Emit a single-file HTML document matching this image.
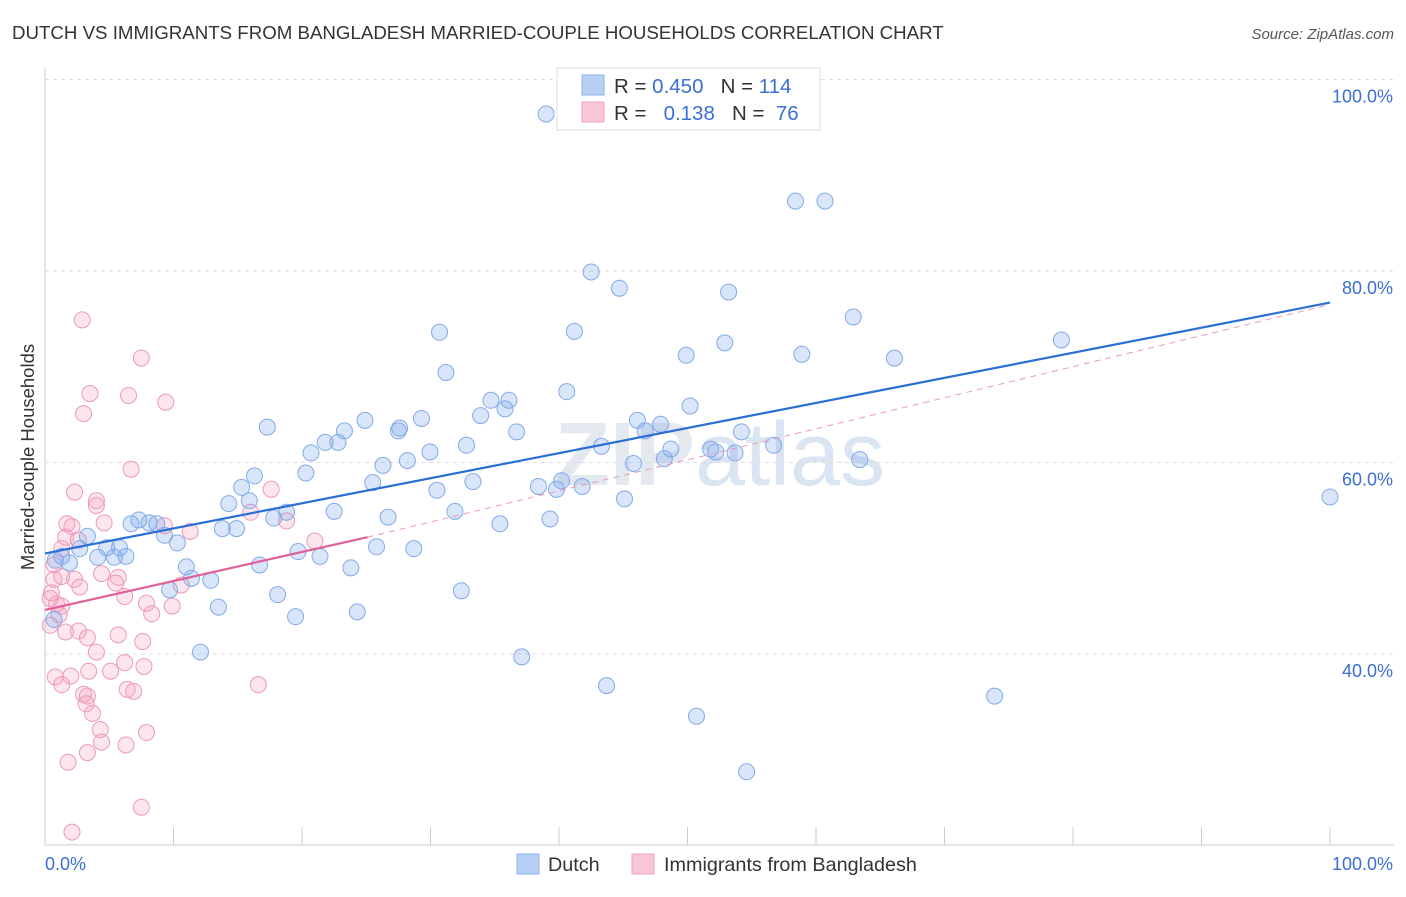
<!DOCTYPE html>
<html><head><meta charset="utf-8"><style>
body{margin:0;background:#fff;font-family:"Liberation Sans",sans-serif;}
svg text{font-family:"Liberation Sans",sans-serif;}
</style></head><body>
<svg id="chart" width="1406" height="892">
<text x="12" y="39" font-size="18.7" fill="#333">DUTCH VS IMMIGRANTS FROM BANGLADESH MARRIED-COUPLE HOUSEHOLDS CORRELATION CHART</text>
<text x="1394" y="39" font-size="15" fill="#555" font-style="italic" text-anchor="end">Source: ZipAtlas.com</text>
<text x="720" y="485" font-size="90" fill="#e4e8ef" text-anchor="middle" font-weight="bold">ZIP<tspan font-weight="normal" fill="#dbe4f3">atlas</tspan></text>
<g id="grid"></g><g id="marks"></g>
<text transform="translate(34,457) rotate(-90)" font-size="18.5" fill="#333" text-anchor="middle">Married-couple Households</text>
<g>
<rect x="557" y="68" width="263" height="62" fill="#fff" stroke="#ddd"/>
<rect x="582" y="75" width="22" height="20" fill="#b9d0f5" stroke="#8fb1ea"/>
<rect x="582" y="102" width="22" height="20" fill="#f8c6d6" stroke="#eea3bd"/>
<text x="614" y="93" font-size="20.5" fill="#333">R = <tspan fill="#3b6fd4">0.450</tspan>&#160;&#160;&#160;N = <tspan fill="#3b6fd4">114</tspan></text>
<text x="614" y="120" font-size="20.5" fill="#333">R = &#160;&#160;<tspan fill="#3b6fd4">0.138</tspan>&#160;&#160;&#160;N = &#160;<tspan fill="#3b6fd4">76</tspan></text>
</g>
<g>
<rect x="517" y="854" width="22" height="20" fill="#b9d0f5" stroke="#8fb1ea"/>
<text x="548" y="871" font-size="19.8" fill="#333">Dutch</text>
<rect x="632" y="854" width="22" height="20" fill="#f8c6d6" stroke="#eea3bd"/>
<text x="664" y="871" font-size="19.8" fill="#333">Immigrants from Bangladesh</text>
</g>
</svg>
<script>
const yTicks=[40,60,80,100];
const xTickCount=10;
const blueX=[39.0,57.2,58.4,60.7,42.5,44.7,53.2,62.9,79.1,41.2,30.7,52.9,49.9,58.9,66.1,31.2,40.6,34.7,36.1,35.8,33.9,50.2,24.9,29.3,27.6,27.5,23.3,17.3,36.7,46.1,46.7,47.9,54.2,21.8,22.8,32.8,43.3,56.7,48.7,51.8,52.2,53.7,29.96,20.7,28.2,26.3,45.8,48.2,63.4,20.3,16.3,25.5,33.3,40.2,38.4,39.8,41.8,30.5,15.3,45.1,100,15.9,14.3,31.9,18.8,22.5,17.8,26.7,39.3,35.4,7.3,6.7,8.1,8.7,13.8,14.9,9.3,3.3,10.3,2.7,4.8,5.8,25.8,28.7,1.3,4.1,5.4,6.3,19.7,21.4,0.8,1.9,16.7,11.0,23.8,11.4,12.9,9.7,18.1,32.4,13.5,24.3,19.5,0.7,12.1,37.1,73.9,43.7,50.7,54.6];
const blueY=[96.4,99.4,87.3,87.3,79.9,78.2,77.8,75.2,72.8,73.7,73.6,72.5,71.2,71.3,70.9,69.4,67.4,66.5,66.5,65.6,64.9,65.9,64.4,64.6,63.6,63.3,63.3,63.7,63.2,64.4,63.3,64.0,63.2,62.1,62.1,61.8,61.7,61.8,61.4,61.4,61.1,61.0,61.1,61.0,60.2,59.7,59.9,60.4,60.3,58.9,58.6,57.9,58.0,58.1,57.5,57.2,57.5,57.1,57.4,56.2,56.4,56.0,55.7,54.9,54.8,54.9,54.2,54.3,54.1,53.6,54.0,53.6,53.7,53.6,53.1,53.1,52.4,52.3,51.6,51.0,51.1,51.1,51.2,51.0,50.2,50.1,50.1,50.2,50.7,50.2,49.8,49.5,49.3,49.1,49.0,47.9,47.7,46.7,46.2,46.6,44.9,44.4,43.9,43.6,40.2,39.7,35.6,36.7,33.5,27.7];
const pinkX=[2.9,7.5,3.5,6.5,9.4,3.0,6.7,2.3,4.0,4.0,17.6,4.6,1.7,2.1,9.3,11.3,16.0,18.8,1.6,2.6,1.3,21.0,0.7,1.3,2.3,4.4,5.7,5.5,0.7,2.7,0.5,0.4,6.2,10.6,7.9,0.9,1.3,9.9,8.3,1.1,0.4,2.6,1.6,3.3,5.7,7.6,4.0,6.2,7.7,5.1,3.4,0.8,2.0,1.3,16.6,6.4,6.9,3.0,3.3,3.2,3.7,4.3,7.9,4.4,6.3,3.3,1.8,7.5,2.1];
const pinkY=[74.9,70.9,67.2,67.0,66.3,65.1,59.3,56.9,56.0,55.5,57.2,53.7,53.6,53.3,53.4,52.8,54.8,53.9,52.2,51.9,51.0,51.8,49.3,48.1,47.8,48.4,48.0,47.4,47.8,47.0,46.4,45.8,46.0,47.2,45.3,45.2,45.0,45.0,44.2,44.1,43.0,42.4,42.3,41.7,42.0,41.3,40.2,39.1,38.7,38.2,38.2,37.6,37.7,36.8,36.8,36.3,36.1,35.8,35.6,34.8,33.8,32.1,31.8,30.8,30.5,29.7,28.7,24.0,21.4];
const blueTrend=[50.5,76.7];
const pinkTrend=[44.6,52.2];
const pinkTrendEndX=25.1;
const pinkExtensionEnd=76.5;

const X=v=>45+v*12.85, Y=v=>1037-v*9.575;
const NS="http://www.w3.org/2000/svg";
const grid=document.getElementById('grid'), marks=document.getElementById('marks');
function mk(tag,attrs,parent){const e=document.createElementNS(NS,tag);for(const k in attrs)e.setAttribute(k,attrs[k]);parent.appendChild(e);return e;}
mk('line',{x1:45,y1:68,x2:45,y2:845,stroke:'#ccc'},grid);
mk('line',{x1:45,y1:845,x2:1394,y2:845,stroke:'#ccc'},grid);
yTicks.forEach(t=>{
 const l=mk('line',{x1:45,y1:Y(t),x2:1394,y2:Y(t),stroke:'#ddd','stroke-dasharray':'4,4'},grid);
 
 
 const tx=mk('text',{x:1393,y:Y(t)+23,'font-size':18,fill:'#3b6fd4','text-anchor':'end'},grid);
 tx.textContent=t.toFixed(1)+'%';
 
 
});
for(let i=0;i<=xTickCount;i++){mk('line',{x1:X(i*10),y1:827,x2:X(i*10),y2:845,stroke:'#ccc'},grid);}
const x0=mk('text',{x:45,y:870,'font-size':18,fill:'#3b6fd4'},grid);x0.textContent='0.0%';


const x1=mk('text',{x:1393,y:870,'font-size':18,fill:'#3b6fd4','text-anchor':'end'},grid);x1.textContent='100.0%';


pinkX.forEach((v,i)=>{const c=mk('circle',{cx:X(v),cy:Y(pinkY[i]),r:8,fill:'rgba(245,160,190,0.28)',stroke:'#ec9ab8','stroke-width':1},marks);
 
 });
blueX.forEach((v,i)=>{const c=mk('circle',{cx:X(v),cy:Y(blueY[i]),r:8,fill:'rgba(130,170,235,0.3)',stroke:'#82aae8','stroke-width':1},marks);
 
 });
const pd=mk('line',{x1:X(pinkTrendEndX),y1:Y(pinkTrend[1]),x2:X(100),y2:Y(pinkExtensionEnd),stroke:'#e89ab5','stroke-width':1,'stroke-dasharray':'6,5'},marks);


const bl=mk('line',{x1:X(0),y1:Y(blueTrend[0]),x2:X(100),y2:Y(blueTrend[1]),stroke:'#2a6fd6','stroke-width':2.2},marks);


const pl=mk('line',{x1:X(0),y1:Y(pinkTrend[0]),x2:X(pinkTrendEndX),y2:Y(pinkTrend[1]),stroke:'#e0609a','stroke-width':2.2},marks);


</script>
</body></html>
